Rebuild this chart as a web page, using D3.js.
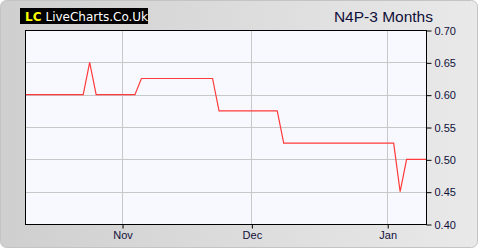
<!DOCTYPE html>
<html>
<head>
<meta charset="utf-8">
<script src="https://cdn.jsdelivr.net/npm/d3@7"></script>
<style>
  body { margin: 0; background: #fff; }
  svg { display: block; }
</style>
</head>
<body>
<div id="chart"></div>
<script>
// chart data
var title = "N4P-3 Months";
// one value per trading day, oldest first
var prices = [
  0.60, 0.60, 0.60, 0.60, 0.60, 0.60, 0.60, 0.60, 0.60, 0.60,
  0.65,
  0.60, 0.60, 0.60, 0.60, 0.60, 0.60, 0.60,
  0.625, 0.625, 0.625, 0.625, 0.625, 0.625, 0.625, 0.625, 0.625, 0.625, 0.625, 0.625,
  0.575, 0.575, 0.575, 0.575, 0.575, 0.575, 0.575, 0.575, 0.575, 0.575,
  0.525, 0.525, 0.525, 0.525, 0.525, 0.525, 0.525, 0.525, 0.525, 0.525,
  0.525, 0.525, 0.525, 0.525, 0.525, 0.525, 0.525, 0.525,
  0.45,
  0.50, 0.50, 0.50, 0.50
];
// month labels and the trading day they fall on
var monthLabels = ["Nov", "Dec", "Jan"];
var monthIndex = [15, 35, 56];
var yTicks = [0.40, 0.45, 0.50, 0.55, 0.60, 0.65, 0.70];

var svg_width = 480, svg_height = 250;
var plotLeft = 25, plotRight = 426, plotTop = 30, plotBottom = 224;

var svg = d3.select("#chart").append("svg")
  .attr("width", svg_width)
  .attr("height", svg_height);

var defs = svg.append("defs");
var grad = defs.append("linearGradient")
  .attr("id", "panel-grad")
  .attr("x1", "0%").attr("x2", "100%")
  .attr("y1", "0%").attr("y2", "0%");
grad.append("stop").attr("offset", "0%").attr("stop-color", "#cfcfcf");
grad.append("stop").attr("offset", "100%").attr("stop-color", "#e9e9e9");

// outer panel
svg.append("rect")
  .attr("x", 0.5).attr("y", 0.5)
  .attr("width", 477).attr("height", 247)
  .attr("rx", 6).attr("ry", 6)
  .style("fill", "url(#panel-grad)")
  .style("stroke", "#c4c4c4");

// scales
var x = d3.scaleLinear()
  .domain([0, prices.length - 1])
  .range([plotLeft, plotRight]);

var y = d3.scaleLinear()
  .domain([0.40, 0.70])
  .range([plotBottom, plotTop]);

// plot background
svg.append("rect")
  .attr("x", plotLeft).attr("y", plotTop)
  .attr("width", plotRight - plotLeft).attr("height", plotBottom - plotTop)
  .style("fill", "#f8f9ff");

// grid lines
svg.append("g").selectAll("line")
  .data(yTicks.slice(1, -1))
  .enter().append("line")
  .attr("x1", plotLeft).attr("x2", plotRight)
  .attr("y1", function(d) { return Math.round(y(d)) + 0.5; })
  .attr("y2", function(d) { return Math.round(y(d)) + 0.5; })
  .style("stroke", "#c8c8c8");

svg.append("g").selectAll("line")
  .data(monthIndex)
  .enter().append("line")
  .attr("x1", function(d) { return Math.round(x(d)) + 0.5; })
  .attr("x2", function(d) { return Math.round(x(d)) + 0.5; })
  .attr("y1", plotTop).attr("y2", plotBottom)
  .style("stroke", "#c8c8c8");

// price line
var line = d3.line()
  .x(function(d, i) { return x(i); })
  .y(function(d) { return y(d); });

svg.append("path")
  .datum(prices)
  .attr("d", line)
  .style("fill", "none")
  .style("stroke", "#ff3b3b")
  .style("stroke-width", 1.2);

// frame
svg.append("rect")
  .attr("x", plotLeft + 0.5).attr("y", plotTop + 0.5)
  .attr("width", plotRight - plotLeft).attr("height", plotBottom - plotTop)
  .style("fill", "none")
  .style("stroke", "#000");

// right axis
var yAxis = d3.axisRight(y)
  .tickValues(yTicks)
  .tickSize(5)
  .tickPadding(3)
  .tickFormat(d3.format(".2f"));

svg.append("g")
  .attr("transform", "translate(" + (plotRight + 0.5) + ",0.5)")
  .call(yAxis)
  .call(function(g) { g.select(".domain").remove(); })
  .call(function(g) {
    g.selectAll("line").style("stroke", "#000");
    g.selectAll("text")
      .style("font-family", "Liberation Sans, Arial, sans-serif")
      .style("font-size", "11px")
      .style("fill", "#10103a");
  });

// bottom axis
var xAxis = d3.axisBottom(x)
  .tickValues(monthIndex)
  .tickSize(4)
  .tickPadding(3)
  .tickFormat(function(d, i) { return monthLabels[i]; });

svg.append("g")
  .attr("transform", "translate(0.5," + (plotBottom + 0.5) + ")")
  .call(xAxis)
  .call(function(g) { g.select(".domain").remove(); })
  .call(function(g) {
    g.selectAll("line").style("stroke", "#000");
    g.selectAll("text")
      .style("font-family", "Liberation Sans, Arial, sans-serif")
      .style("font-size", "11px")
      .style("fill", "#10103a");
  });

// title
svg.append("text")
  .attr("x", 433).attr("y", 22)
  .attr("text-anchor", "end")
  .style("font-family", "Liberation Sans, Arial, sans-serif")
  .style("font-size", "15.5px")
  .style("fill", "#10103a")
  .text(title);

// logo
var logo = svg.append("g");
logo.append("rect")
  .attr("x", 20).attr("y", 8)
  .attr("width", 128).attr("height", 16)
  .style("fill", "#000");
var logoText = logo.append("text")
  .attr("x", 25).attr("y", 21)
  .style("font-family", "DejaVu Sans, Verdana, sans-serif")
  .style("font-size", "12px");
logoText.append("tspan")
  .style("fill", "#ffff00")
  .style("font-weight", "bold")
  .text("LC");
logoText.append("tspan")
  .attr("dx", 4)
  .style("fill", "#fff")
  .text("LiveCharts.Co.Uk");
</script>
</body>
</html>
